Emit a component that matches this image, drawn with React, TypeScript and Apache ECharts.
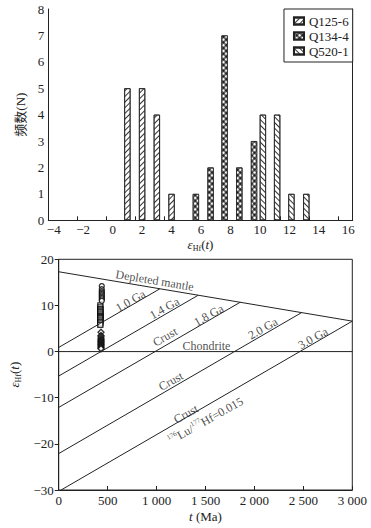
import React, { useEffect, useRef } from 'react';
import * as echarts from 'echarts';

// ---------- Histogram (top) ----------
const seriesNames = ['Q125-6', 'Q134-4', 'Q520-1'];
const q125Bins = [1, 2, 3, 4];
const q125Counts = [5, 5, 4, 1];
const q134Bins = [5.65, 6.65, 7.6, 8.6, 9.6];
const q134Counts = [1, 2, 7, 2, 3];
const q520Bins = [10.2, 11.17, 12.14, 13.15];
const q520Counts = [4, 4, 1, 1];
const epsLabelValues = [-4, -2, 0, 2, 4, 6, 8, 10, 12, 14, 16];
const epsTickValues = [-2.42, -0.45, 1.52, 3.49, 5.46, 7.43, 9.4, 11.37, 13.34, 15.31];

// ---------- Evolution diagram (bottom) ----------
const depletedMantle = [[0, 17.3], [3000, 6.6]];
const chondrite = [[0, 0], [3000, 0]];
const crust10 = [[0, 0.9], [1033, 13.6]];
const crust14 = [[0, -5.3], [1424, 12.2]];
const crust18 = [[0, -12.1], [1855, 10.7]];
const crust20 = [[0, -22.1], [2482, 8.45]];
const crust30 = [[24, -30], [3000, 6.6]];
const refLines = [depletedMantle, chondrite, crust10, crust14, crust18, crust20, crust30];

const q125Age = 432;
const q125Eps = [4.2, 3.5, 3.2, 2.9, 2.6, 2.4, 2.2, 2.0, 1.8, 1.6, 1.4, 1.2, 1.0, 0.8, 0.6];
const q134Age = 425;
const q134Eps = [10.0, 9.6, 9.2, 8.9, 8.6, 8.3, 8.0, 7.7, 7.5, 7.3, 7.0, 6.7, 6.4, 6.1, 5.8];
const q520Age = 440;
const q520Eps = [14.2, 13.5, 13.1, 12.8, 12.5, 12.2, 11.9, 11.6, 11.3, 11.0];

const annotations = [
  { text: 'Depleted mantle', t: 981, v: 15.4, angle: -9.3 },
  { text: '1.0 Ga', t: 733, v: 11.0, angle: 29.3 },
  { text: '1.4 Ga', t: 1080, v: 9.4, angle: 29.3 },
  { text: 'Crust', t: 1086, v: 3.2, angle: 29.3 },
  { text: '1.8 Ga', t: 1532, v: 7.9, angle: 29.3 },
  { text: 'Chondrite', t: 1509, v: 1.2, angle: 0 },
  { text: '2.0 Ga', t: 2086, v: 5.0, angle: 29.3 },
  { text: '3.0 Ga', t: 2598, v: 2.9, angle: 29.3 },
  { text: 'Crust', t: 1146, v: -6.4, angle: 29.3 },
  { text: 'Crust', t: 1300, v: -13.5, angle: 29.3 },
  { text: '{sup|176}{n|Lu/}{sup|177}{n|Hf=0.015}', t: 1500, v: -15.0, angle: 29.3 },
];

const SERIF = "'Liberation Serif', 'Times New Roman', 'Noto Sans CJK SC', serif";
const INK = '#222';

const minus = (v: number) => String(v).replace('-', '\u2212');
const thousands = (v: number) => (v >= 1000 ? `${Math.floor(v / 1000)} ${String(v % 1000).padStart(3, '0')}` : String(v));

const epsRich = {
  g: { fontFamily: SERIF, fontSize: 13, fontStyle: 'italic', color: INK, lineHeight: 16 },
  s: { fontFamily: SERIF, fontSize: 8, color: INK, verticalAlign: 'bottom' },
  p: { fontFamily: SERIF, fontSize: 13, color: INK, lineHeight: 16 },
  i: { fontFamily: SERIF, fontSize: 13, fontStyle: 'italic', color: INK, lineHeight: 16 },
};
const epsName = '{g|ε}{s|Hf}{p|(}{i|t}{p|)}';

const barBase = {
  type: 'bar',
  xAxisIndex: 0,
  yAxisIndex: 0,
  barWidth: 6.3,
  barGap: '-100%',
  silent: true,
};

export default function App() {
  const ref = useRef<HTMLDivElement>(null);
  useEffect(() => {
    if (!ref.current) return;
    const chart = echarts.init(ref.current, null, { renderer: 'svg' });
    const axisText = { color: INK, fontFamily: SERIF, fontSize: 13 };
    const option: any = {
      animation: false,
      backgroundColor: '#fff',
      grid: [
        { left: 48.3, top: 9, width: 304.4, height: 211.3 },
        { left: 49.3, top: 259.3, width: 303, height: 230.7, show: true, borderColor: INK, borderWidth: 1 },
      ],
      legend: {
        data: seriesNames,
        orient: 'vertical',
        right: 18.3,
        top: 9,
        padding: [5, 4, 4, 9],
        itemGap: 1,
        itemWidth: 10,
        itemHeight: 7,
        icon: 'rect',
        backgroundColor: '#fff',
        borderColor: INK,
        borderWidth: 1,
        borderRadius: 0,
        textStyle: { fontFamily: SERIF, fontSize: 13, color: INK, lineHeight: 14 },
        z: 10,
      },
      xAxis: [
        {
          gridIndex: 0,
          type: 'value',
          min: -4.37,
          max: 16.3,
          axisLine: { show: true, onZero: false, lineStyle: { color: INK, width: 1 } },
          axisTick: { show: true, inside: true, length: 4, customValues: epsTickValues, lineStyle: { color: INK } },
          axisLabel: { ...axisText, customValues: epsLabelValues, formatter: minus, margin: 3 },
          splitLine: { show: false },
          name: epsName,
          nameLocation: 'middle',
          nameGap: 16,
          nameTextStyle: { rich: epsRich },
        },
        {
          gridIndex: 1,
          type: 'value',
          min: 0,
          max: 3000,
          interval: 500,
          axisLine: { show: true, onZero: false, lineStyle: { color: INK, width: 1 } },
          axisTick: { show: true, inside: true, length: 4, lineStyle: { color: INK } },
          axisLabel: { ...axisText, formatter: thousands, margin: 4 },
          splitLine: { show: false },
          name: '{i|t}{p| (Ma)}',
          nameLocation: 'middle',
          nameGap: 18,
          nameTextStyle: { rich: epsRich },
        },
      ],
      yAxis: [
        {
          gridIndex: 0,
          type: 'value',
          min: 0,
          max: 8,
          interval: 1,
          axisLine: { show: true, onZero: false, lineStyle: { color: INK, width: 1 } },
          axisTick: { show: false },
          axisLabel: { ...axisText, margin: 4 },
          splitLine: { show: false },
          name: '频数(N)',
          nameLocation: 'middle',
          nameGap: 21,
          nameTextStyle: { color: INK, fontFamily: SERIF, fontSize: 13 },
        },
        {
          gridIndex: 0,
          type: 'value',
          position: 'right',
          min: 0,
          max: 8,
          axisLine: { show: true, onZero: false, lineStyle: { color: INK, width: 1 } },
          axisTick: { show: false },
          axisLabel: { show: false },
          splitLine: { show: false },
        },
        {
          gridIndex: 1,
          type: 'value',
          min: -30,
          max: 20,
          interval: 10,
          axisLine: { show: true, onZero: false, lineStyle: { color: INK, width: 1 } },
          axisTick: { show: true, inside: false, length: 4, lineStyle: { color: INK } },
          axisLabel: { ...axisText, formatter: minus, margin: 5 },
          splitLine: { show: false },
          name: epsName,
          nameLocation: 'middle',
          nameGap: 27,
          nameTextStyle: { rich: epsRich },
        },
      ],
      series: [
        {
          ...barBase,
          name: seriesNames[0],
          data: q125Bins.map((b, i) => [b, q125Counts[i]]),
          itemStyle: {
            color: '#fff',
            borderColor: INK,
            borderWidth: 0.8,
            decal: {
              symbol: 'rect', symbolSize: 1, dashArrayX: [1, 0], dashArrayY: [0.7, 2.3],
              rotation: -Math.PI / 4, color: '#333', backgroundColor: '#fff',
            },
          },
        },
        {
          ...barBase,
          name: seriesNames[1],
          data: q134Bins.map((b, i) => [b, q134Counts[i]]),
          itemStyle: {
            color: '#222',
            borderColor: INK,
            borderWidth: 0.8,
            decal: {
              symbol: 'circle', symbolSize: 0.75, dashArrayX: [3.2, 0], dashArrayY: [3.2, 0],
              rotation: Math.PI / 4, color: '#fff', backgroundColor: '#222',
            },
          },
        },
        {
          ...barBase,
          name: seriesNames[2],
          data: q520Bins.map((b, i) => [b, q520Counts[i]]),
          itemStyle: {
            color: '#fff',
            borderColor: INK,
            borderWidth: 0.8,
            decal: {
              symbol: 'rect', symbolSize: 1, dashArrayX: [1, 0], dashArrayY: [0.7, 2.3],
              rotation: Math.PI / 4, color: '#333', backgroundColor: '#fff',
            },
          },
        },
        ...refLines.map((pts, k) => ({
          type: 'line',
          name: 'ref' + k,
          xAxisIndex: 1,
          yAxisIndex: 2,
          data: pts,
          symbol: 'none',
          showSymbol: false,
          silent: true,
          lineStyle: { color: INK, width: 1 },
        })),
        {
          type: 'scatter', name: 'pts-Q125-6', xAxisIndex: 1, yAxisIndex: 2,
          data: q125Eps.map((e) => [q125Age, e]), symbol: 'diamond', symbolSize: 6,
          itemStyle: { color: '#fff', borderColor: '#000', borderWidth: 1.3 },
        },
        {
          type: 'scatter', name: 'pts-Q134-4', xAxisIndex: 1, yAxisIndex: 2,
          data: q134Eps.map((e) => [q134Age, e]), symbol: 'rect', symbolSize: 5,
          itemStyle: { color: '#fff', borderColor: '#000', borderWidth: 1.3 },
        },
        {
          type: 'scatter', name: 'pts-Q520-1', xAxisIndex: 1, yAxisIndex: 2,
          data: q520Eps.map((e) => [q520Age, e]), symbol: 'circle', symbolSize: 5,
          itemStyle: { color: '#fff', borderColor: '#000', borderWidth: 1.3 },
        },
        {
          type: 'scatter', name: 'annotations', xAxisIndex: 1, yAxisIndex: 2,
          symbolSize: 0, silent: true,
          itemStyle: { color: 'transparent' },
          data: annotations.map((a) => ({ name: a.text, value: [a.t, a.v], label: { rotate: a.angle } })),
          label: {
            show: true, position: 'inside', formatter: '{b}', color: INK, fontFamily: SERIF, fontSize: 12,
            textBorderWidth: 0, textBorderColor: 'transparent',
            rich: {
              sup: { fontFamily: SERIF, fontSize: 7, color: INK, verticalAlign: 'top', textBorderWidth: 0 },
              n: { fontFamily: SERIF, fontSize: 12, color: INK, lineHeight: 14, textBorderWidth: 0 },
            },
          },
        },
      ],
    };
    chart.setOption(option);
    return () => chart.dispose();
  }, []);
  return <div ref={ref} style={{ position: 'absolute', left: 0, top: 0, width: 371, height: 528 }} />;
}
